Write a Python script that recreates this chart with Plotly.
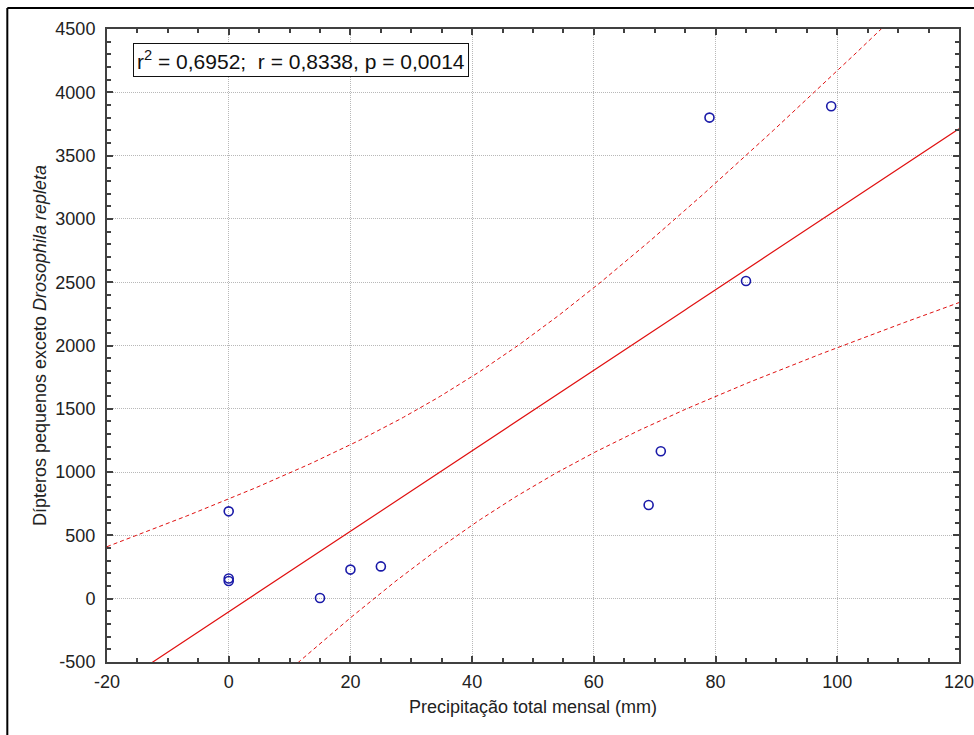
import numpy as np
import plotly.graph_objects as go

# Data
precip_mm = [0, 0, 0, 15, 20, 25, 69, 71, 79, 85, 99]
dipteros = [690, 160, 140, 5, 230, 255, 740, 1165, 3800, 2510, 3890]

x_ticks = [-20, 0, 20, 40, 60, 80, 100, 120]
x_tick_labels = ["-20", "0", "20", "40", "60", "80", "100", "120"]
y_ticks = [-500, 0, 500, 1000, 1500, 2000, 2500, 3000, 3500, 4000, 4500]
y_tick_labels = ["-500", "0", "500", "1000", "1500", "2000", "2500", "3000",
                 "3500", "4000", "4500"]
stats_text = "r<sup>2</sup> = 0,6952;&nbsp; r = 0,8338, p = 0,0014"
t_crit = 2.262  # Student t, 0.975, df = 9

# Linear regression and 95% confidence band
x = np.array(precip_mm, float)
y = np.array(dipteros, float)
n = len(x)
slope, intercept = np.polyfit(x, y, 1)
resid = y - (intercept + slope * x)
s = np.sqrt(np.sum(resid ** 2) / (n - 2))
sxx = np.sum((x - x.mean()) ** 2)
xf = np.linspace(-20, 120, 300)
yf = intercept + slope * xf
half = t_crit * s * np.sqrt(1.0 / n + (xf - x.mean()) ** 2 / sxx)

RED = "#e01010"
FONT = "Liberation Sans, Arial"
fig = go.Figure()
fig.add_trace(go.Scatter(x=xf, y=yf + half, mode="lines",
                         line=dict(color=RED, width=1, dash="4px,3px"), hoverinfo="skip"))
fig.add_trace(go.Scatter(x=xf, y=yf - half, mode="lines",
                         line=dict(color=RED, width=1, dash="4px,3px"), hoverinfo="skip"))
fig.add_trace(go.Scatter(x=xf, y=yf, mode="lines",
                         line=dict(color=RED, width=1.2), hoverinfo="skip"))
fig.add_trace(go.Scatter(x=precip_mm, y=dipteros, mode="markers",
                         marker=dict(symbol="circle-open", size=9, color="#1a1aa8",
                                     line=dict(width=1.6, color="#1a1aa8"))))

axis_common = dict(
    showline=True, linecolor="#404040", linewidth=2, mirror="ticks",
    ticks="inside", ticklen=6, tickcolor="#404040", tickwidth=1.5,
    showgrid=True, gridcolor="#b8b8b8", griddash="1px,1px", gridwidth=1,
    zeroline=False, automargin=False, ticklabeloverflow="allow",
    tickfont=dict(family=FONT, size=18, color="#222"),
)

fig.update_layout(
    width=974, height=735,
    margin=dict(l=107, r=15, t=29, b=73),
    paper_bgcolor="white", plot_bgcolor="white",
    showlegend=False,
    font=dict(family=FONT, color="#222"),
    xaxis=dict(range=[-20, 120], tickvals=x_ticks, ticktext=x_tick_labels,
               ticklabelstandoff=2,
               minor=dict(dtick=5, ticks="inside", ticklen=4, tickcolor="#404040",
                          showgrid=False),
               title=dict(text="Precipitação total mensal (mm)",
                          font=dict(size=18, color="#222"), standoff=10),
               **axis_common),
    yaxis=dict(range=[-500, 4500], tickvals=y_ticks, ticktext=y_tick_labels,
               ticklabelstandoff=6,
               minor=dict(dtick=100, ticks="inside", ticklen=4, tickcolor="#404040",
                          showgrid=False),
               title=dict(text="Dípteros pequenos exceto <i>Drosophila repleta</i>",
                          font=dict(size=18, color="#222"), standoff=4),
               **axis_common),
    annotations=[dict(
        text=stats_text, xref="paper", yref="paper", x=0.031, y=0.978,
        xanchor="left", yanchor="top", showarrow=False,
        font=dict(family=FONT, size=21, color="#111"),
        bordercolor="#111", borderwidth=1, borderpad=3, bgcolor="white")],
    shapes=[
        dict(type="line", xref="paper", yref="paper", x0=-0.117, x1=1.1,
             y0=1.033, y1=1.033, line=dict(color="black", width=2)),
        dict(type="line", xref="paper", yref="paper", x0=-0.117, x1=-0.117,
             y0=1.033, y1=-0.2, line=dict(color="black", width=2)),
    ],
)

fig.write_html("out.html")
